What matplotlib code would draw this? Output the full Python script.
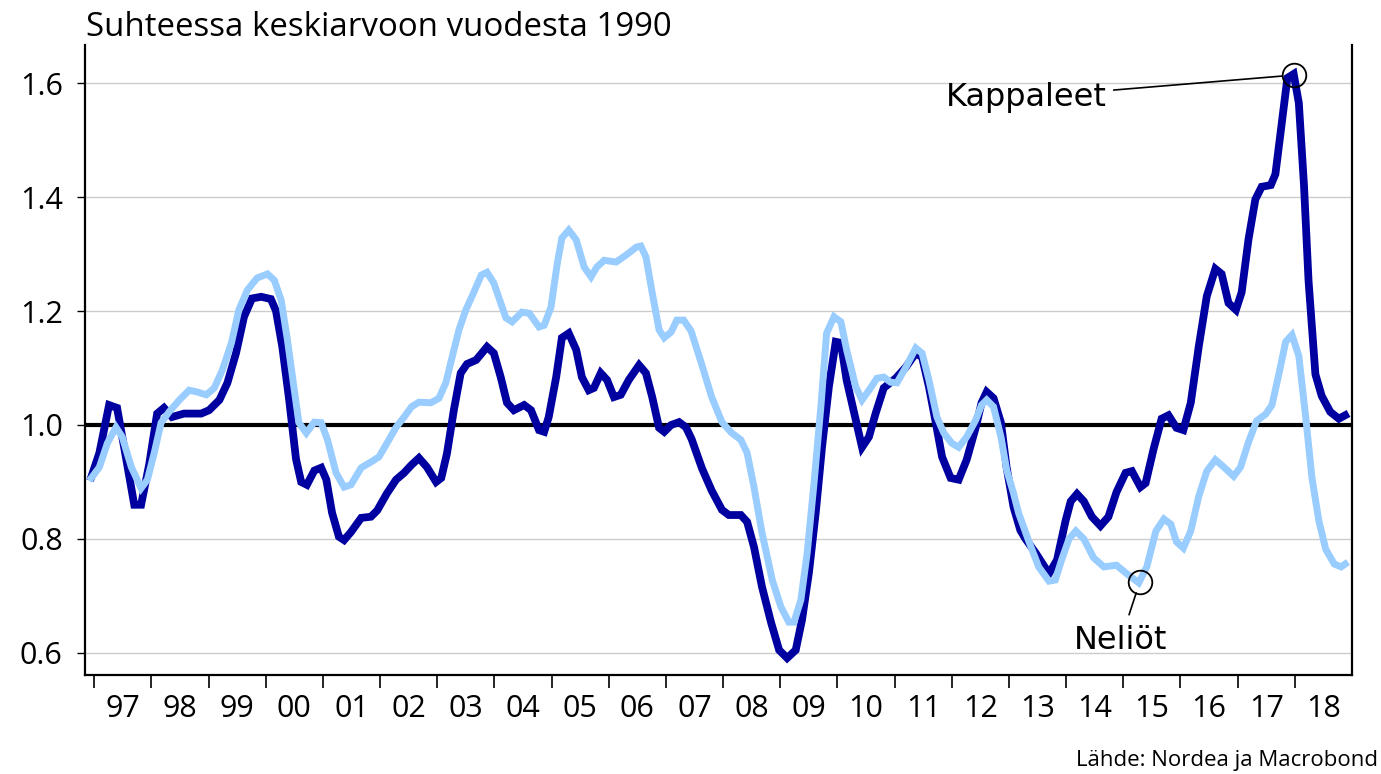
import matplotlib
matplotlib.use("Agg")
import matplotlib.pyplot as plt
import numpy as np

# Kappaleet (tummansininen)
kpl_x = [1996.95, 1997.09, 1997.26, 1997.40, 1997.56, 1997.70, 1997.82, 1997.96, 1998.10, 1998.22,
         1998.36, 1998.57, 1998.87, 1999.01, 1999.19, 1999.33, 1999.48, 1999.62, 1999.76, 1999.92,
         2000.09, 2000.18, 2000.29, 2000.41, 2000.53, 2000.62, 2000.72, 2000.85, 2000.97, 2001.06,
         2001.16, 2001.28, 2001.37, 2001.49, 2001.67, 2001.84, 2001.95, 2002.12, 2002.28, 2002.42,
         2002.55, 2002.68, 2002.82, 2002.98, 2003.07, 2003.17, 2003.29, 2003.41, 2003.52, 2003.68,
         2003.87, 2003.99, 2004.11, 2004.22, 2004.34, 2004.52, 2004.64, 2004.78, 2004.87, 2004.95,
         2005.08, 2005.18, 2005.30, 2005.43, 2005.53, 2005.65, 2005.74, 2005.86, 2005.97, 2006.09,
         2006.21, 2006.35, 2006.53, 2006.65, 2006.76, 2006.88, 2006.97, 2007.09, 2007.23, 2007.35,
         2007.45, 2007.63, 2007.80, 2007.98, 2008.10, 2008.31, 2008.42, 2008.54, 2008.68, 2008.84,
         2008.98, 2009.12, 2009.27, 2009.38, 2009.50, 2009.62, 2009.73, 2009.85, 2009.97, 2010.06,
         2010.16, 2010.32, 2010.43, 2010.55, 2010.67, 2010.81, 2011.02, 2011.20, 2011.37, 2011.48,
         2011.60, 2011.72, 2011.83, 2011.98, 2012.12, 2012.26, 2012.42, 2012.52, 2012.61, 2012.73,
         2012.86, 2012.96, 2013.08, 2013.20, 2013.29, 2013.47, 2013.70, 2013.84, 2013.99, 2014.08,
         2014.19, 2014.31, 2014.45, 2014.60, 2014.74, 2014.88, 2015.04, 2015.15, 2015.30, 2015.39,
         2015.53, 2015.67, 2015.79, 2015.93, 2016.05, 2016.18, 2016.32, 2016.46, 2016.61, 2016.72,
         2016.84, 2016.97, 2017.07, 2017.19, 2017.31, 2017.42, 2017.58, 2017.66, 2017.77, 2017.87,
         2017.98, 2018.07, 2018.16, 2018.24, 2018.36, 2018.47, 2018.62, 2018.77, 2018.88]
kpl_y = [0.909, 0.951, 1.035, 1.030, 0.940, 0.860, 0.860, 0.930, 1.020, 1.030,
         1.014, 1.020, 1.020, 1.026, 1.044, 1.074, 1.126, 1.190, 1.222, 1.225,
         1.221, 1.200, 1.137, 1.044, 0.940, 0.900, 0.895, 0.920, 0.925, 0.904,
         0.846, 0.804, 0.798, 0.812, 0.837, 0.839, 0.850, 0.880, 0.904, 0.916,
         0.930, 0.942, 0.926, 0.900, 0.907, 0.950, 1.026, 1.091, 1.107, 1.114,
         1.137, 1.126, 1.084, 1.039, 1.026, 1.035, 1.026, 0.991, 0.988, 1.014,
         1.084, 1.153, 1.161, 1.132, 1.084, 1.061, 1.065, 1.091, 1.079, 1.049,
         1.053, 1.079, 1.105, 1.091, 1.049, 0.995, 0.988, 1.000, 1.005, 0.996,
         0.975, 0.924, 0.885, 0.851, 0.842, 0.842, 0.830, 0.786, 0.716, 0.653,
         0.605, 0.591, 0.605, 0.658, 0.740, 0.846, 0.961, 1.067, 1.146, 1.144,
         1.079, 1.009, 0.961, 0.979, 1.021, 1.065, 1.082, 1.102, 1.126, 1.119,
         1.067, 1.004, 0.944, 0.907, 0.904, 0.939, 0.996, 1.039, 1.058, 1.047,
         1.004, 0.925, 0.856, 0.815, 0.800, 0.775, 0.739, 0.763, 0.832, 0.866,
         0.879, 0.866, 0.839, 0.823, 0.839, 0.882, 0.916, 0.919, 0.891, 0.898,
         0.958, 1.011, 1.017, 0.995, 0.991, 1.039, 1.138, 1.226, 1.274, 1.265,
         1.214, 1.202, 1.233, 1.326, 1.396, 1.418, 1.421, 1.440, 1.528, 1.609,
         1.616, 1.565, 1.421, 1.253, 1.089, 1.051, 1.023, 1.011, 1.017]

# Neliöt (vaaleansininen)
nel_x = [1996.95, 1997.09, 1997.23, 1997.38, 1997.49, 1997.65, 1997.82, 1997.93, 1998.05, 1998.17,
         1998.31, 1998.49, 1998.66, 1998.80, 1998.96, 1999.10, 1999.24, 1999.40, 1999.53, 1999.68,
         1999.85, 2000.03, 2000.15, 2000.27, 2000.38, 2000.50, 2000.58, 2000.71, 2000.85, 2000.97,
         2001.08, 2001.23, 2001.37, 2001.49, 2001.67, 2001.84, 2001.98, 2002.12, 2002.28, 2002.42,
         2002.55, 2002.68, 2002.89, 2003.03, 2003.15, 2003.26, 2003.38, 2003.50, 2003.64, 2003.77,
         2003.87, 2003.99, 2004.11, 2004.20, 2004.31, 2004.48, 2004.61, 2004.78, 2004.87, 2004.99,
         2005.10, 2005.18, 2005.30, 2005.43, 2005.57, 2005.69, 2005.79, 2005.92, 2006.13, 2006.30,
         2006.48, 2006.56, 2006.65, 2006.76, 2006.88, 2006.97, 2007.09, 2007.19, 2007.31, 2007.44,
         2007.63, 2007.80, 2007.98, 2008.15, 2008.31, 2008.42, 2008.54, 2008.68, 2008.86, 2009.01,
         2009.15, 2009.24, 2009.36, 2009.47, 2009.59, 2009.71, 2009.81, 2009.94, 2010.06, 2010.16,
         2010.32, 2010.43, 2010.58, 2010.69, 2010.81, 2010.93, 2011.04, 2011.20, 2011.37, 2011.48,
         2011.60, 2011.74, 2011.86, 2012.00, 2012.12, 2012.26, 2012.42, 2012.52, 2012.61, 2012.73,
         2012.86, 2012.96, 2013.08, 2013.17, 2013.35, 2013.52, 2013.70, 2013.81, 2013.92, 2014.05,
         2014.17, 2014.31, 2014.48, 2014.66, 2014.88, 2015.06, 2015.27, 2015.41, 2015.57, 2015.71,
         2015.83, 2015.93, 2016.05, 2016.18, 2016.32, 2016.46, 2016.61, 2016.76, 2016.93, 2017.05,
         2017.19, 2017.33, 2017.49, 2017.60, 2017.72, 2017.84, 2017.95, 2018.07, 2018.19, 2018.30,
         2018.42, 2018.54, 2018.69, 2018.81, 2018.88]
nel_y = [0.907, 0.926, 0.968, 0.996, 0.979, 0.926, 0.889, 0.904, 0.951, 1.004,
         1.023, 1.044, 1.061, 1.058, 1.053, 1.065, 1.096, 1.144, 1.202, 1.237,
         1.258, 1.265, 1.254, 1.219, 1.149, 1.061, 1.004, 0.986, 1.005, 1.004,
         0.974, 0.916, 0.891, 0.895, 0.925, 0.935, 0.944, 0.968, 0.996, 1.014,
         1.032, 1.040, 1.039, 1.047, 1.074, 1.119, 1.167, 1.202, 1.233, 1.263,
         1.268, 1.249, 1.214, 1.188, 1.181, 1.198, 1.196, 1.172, 1.175, 1.207,
         1.284, 1.328, 1.342, 1.325, 1.277, 1.260, 1.277, 1.289, 1.286, 1.298,
         1.312, 1.314, 1.295, 1.232, 1.167, 1.153, 1.163, 1.184, 1.184, 1.165,
         1.105, 1.049, 1.005, 0.986, 0.974, 0.951, 0.891, 0.811, 0.728, 0.681,
         0.654, 0.654, 0.693, 0.775, 0.898, 1.032, 1.161, 1.190, 1.181, 1.132,
         1.067, 1.044, 1.065, 1.082, 1.084, 1.075, 1.074, 1.102, 1.135, 1.126,
         1.079, 1.014, 0.986, 0.968, 0.961, 0.979, 1.009, 1.035, 1.044, 1.032,
         0.979, 0.921, 0.880, 0.845, 0.795, 0.751, 0.726, 0.728, 0.763, 0.800,
         0.814, 0.800, 0.767, 0.751, 0.754, 0.739, 0.723, 0.751, 0.814, 0.835,
         0.826, 0.795, 0.784, 0.814, 0.875, 0.919, 0.939, 0.926, 0.910, 0.926,
         0.970, 1.007, 1.019, 1.035, 1.089, 1.146, 1.158, 1.121, 1.014, 0.907,
         0.832, 0.782, 0.756, 0.751, 0.756]

years = list(range(1997, 2019))
year_labels = ["97", "98", "99", "00", "01", "02", "03", "04", "05", "06", "07",
               "08", "09", "10", "11", "12", "13", "14", "15", "16", "17", "18"]
y_ticks = [0.6, 0.8, 1.0, 1.2, 1.4, 1.6]

plt.rcParams['font.family'] = ['Open Sans', 'DejaVu Sans']

fig = plt.figure(figsize=(13.81, 7.74), dpi=100)
ax = fig.add_axes([0.0616, 0.128, 0.9174, 0.814])

ax.axhline(1.0, color="black", linewidth=3, zorder=2)
ax.plot(kpl_x, kpl_y, color="#0000A0", linewidth=5.6, zorder=3, solid_joinstyle="miter")
ax.plot(nel_x, nel_y, color="#99CCFF", linewidth=5, zorder=4, solid_joinstyle="miter")

ax.set_xlim(1996.84, 2019.0)
ax.set_ylim(0.5614, 1.667)

ax.set_yticks(y_ticks)
ax.set_yticklabels(["0.6", "0.8", "1.0", "1.2", "1.4", "1.6"])
ax.grid(axis="y", color="#cccccc", linewidth=1, zorder=0)
ax.set_axisbelow(True)

ax.set_xticks(years)
ax.set_xticklabels([])
ax.set_xticks([y + 0.5 for y in years], minor=True)
ax.set_xticklabels(year_labels, minor=True)
ax.tick_params(axis="x", which="major", direction="out", length=9, width=1.2)
ax.tick_params(axis="x", which="minor", length=0, pad=14, labelsize=22)
ax.tick_params(axis="y", direction="out", length=6, width=1, pad=10, labelsize=22)

ax.spines["top"].set_visible(False)
for s in ["left", "right", "bottom"]:
    ax.spines[s].set_linewidth(1.6)

# ympyrät ja selitteet
ax.plot([2017.98], [1.614], marker="o", ms=17, mfc="none", mec="black", mew=1.3, zorder=6)
ax.annotate("Kappaleet", xy=(2017.98, 1.614), xytext=(2014.71, 1.575),
            ha="right", va="center", fontsize=23, family="DejaVu Sans",
            arrowprops=dict(arrowstyle="-", color="black", lw=1.2, shrinkA=3, shrinkB=8.5))
ax.plot([2015.29], [0.725], marker="o", ms=17, mfc="none", mec="black", mew=1.3, zorder=6)
ax.annotate("Neliöt", xy=(2015.29, 0.725), xytext=(2014.95, 0.621),
            ha="center", va="center", fontsize=23, family="DejaVu Sans",
            arrowprops=dict(arrowstyle="-", color="black", lw=1.2, shrinkA=6, shrinkB=8.5))

fig.text(0.0623, 0.965, "Suhteessa keskiarvoon vuodesta 1990", fontsize=23.8,
         ha="left", va="center")
fig.text(0.998, 0.018, "Lähde: Nordea ja Macrobond", fontsize=16, ha="right", va="center")

fig.savefig("out.png", dpi=100)
